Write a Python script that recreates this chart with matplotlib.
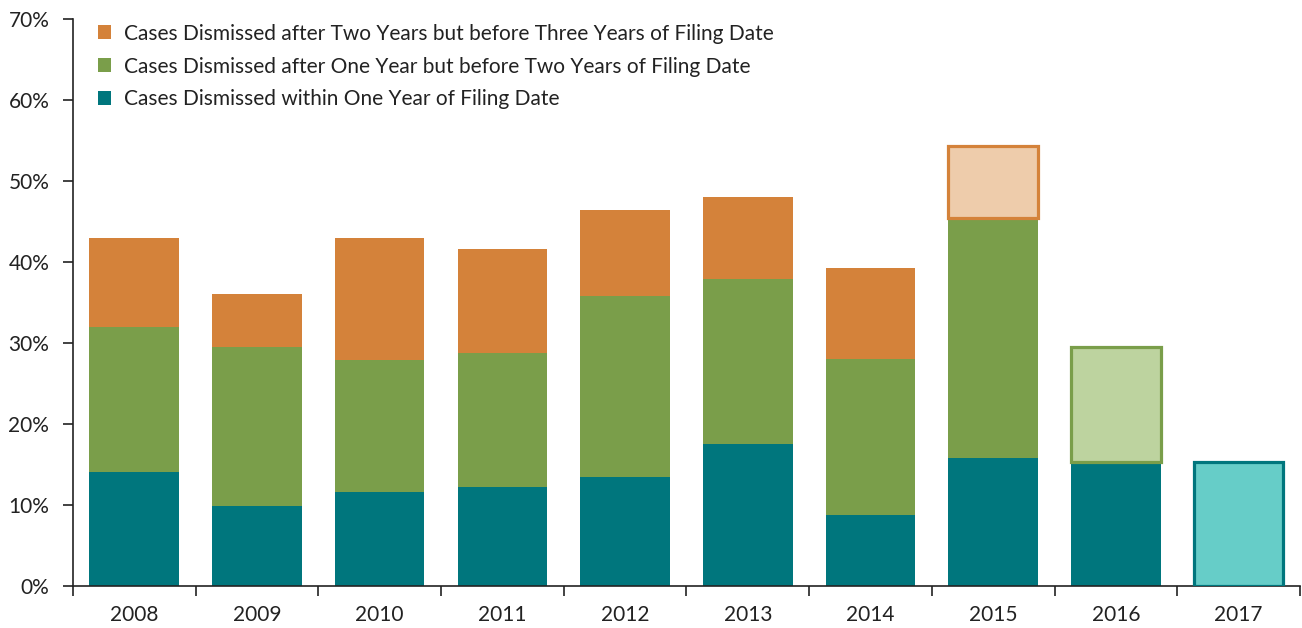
import matplotlib.pyplot as plt
from matplotlib.patches import Patch
from matplotlib.ticker import FixedLocator, FuncFormatter

plt.rcParams['font.family'] = ['Lato', 'DejaVu Sans']

years = ['2008', '2009', '2010', '2011', '2012', '2013', '2014', '2015', '2016', '2017']
# share of filings dismissed, in percent
within_one = [14.0, 9.8, 11.6, 12.2, 13.4, 17.5, 8.7, 15.8, 15.3, 15.3]
one_to_two = [17.9, 19.7, 16.3, 16.6, 22.4, 20.4, 19.3, 29.6, 14.2, 0]
two_to_three = [11.1, 6.5, 15.0, 12.8, 10.6, 10.1, 11.2, 8.9, 0, 0]
# last year of each series is still incomplete -> lighter fill
partial_year = ['2017', '2016', '2015']

labels = ['Cases Dismissed within One Year of Filing Date',
          'Cases Dismissed after One Year but before Two Years of Filing Date',
          'Cases Dismissed after Two Years but before Three Years of Filing Date']
dark = ['#00767d', '#7a9e4a', '#d4823a']
light = ['#66cdc8', '#bdd39f', '#eeccab']

fig = plt.figure(figsize=(13.02, 6.28), dpi=100)
ax = fig.add_axes([0.056, 0.0674, 0.9425, 0.9023])

x = list(range(len(years)))
width = 0.73
bottom = [0.0] * len(years)
for series, lab, dc, lc, py in zip([within_one, one_to_two, two_to_three],
                                   labels, dark, light, partial_year):
    for i, v in enumerate(series):
        if v <= 0:
            continue
        if years[i] == py:
            ax.bar(x[i], v, width, bottom=bottom[i], color=lc, edgecolor=dc,
                   linewidth=2.3, zorder=3)
        else:
            ax.bar(x[i], v, width, bottom=bottom[i], color=dc, linewidth=0,
                   zorder=2)
        bottom[i] += v

ax.set_xlim(-0.5, len(years) - 0.5)
ax.set_ylim(0, 70)
ax.set_yticks(range(0, 71, 10))
ax.yaxis.set_major_formatter(FuncFormatter(lambda v, p: f'{v:.0f}%'))
ax.set_xticks(x)
ax.set_xticklabels(years)
ax.xaxis.set_minor_locator(FixedLocator([i - 0.5 for i in range(len(years) + 1)]))
ax.tick_params(axis='x', which='major', length=0, pad=14, labelsize=15, colors='#222222')
ax.tick_params(axis='x', which='minor', length=7, width=1.2, color='#222222')
ax.tick_params(axis='y', length=7, width=1.2, pad=10, labelsize=15, colors='#222222')

for s in ['top', 'right']:
    ax.spines[s].set_visible(False)
ax.spines['left'].set_linewidth(1.2)
ax.spines['bottom'].set_linewidth(1.2)
ax.spines['left'].set_color('#222222')
ax.spines['bottom'].set_color('#222222')

handles = [Patch(facecolor=c) for c in dark[::-1]]
ax.legend(handles, labels[::-1], loc='upper left', bbox_to_anchor=(0.005, 1.025),
          frameon=False, fontsize=15, handlelength=0.65, handleheight=0.65,
          handletextpad=0.6, labelspacing=0.62, labelcolor='#222222')

fig.savefig('out.png', dpi=100)
